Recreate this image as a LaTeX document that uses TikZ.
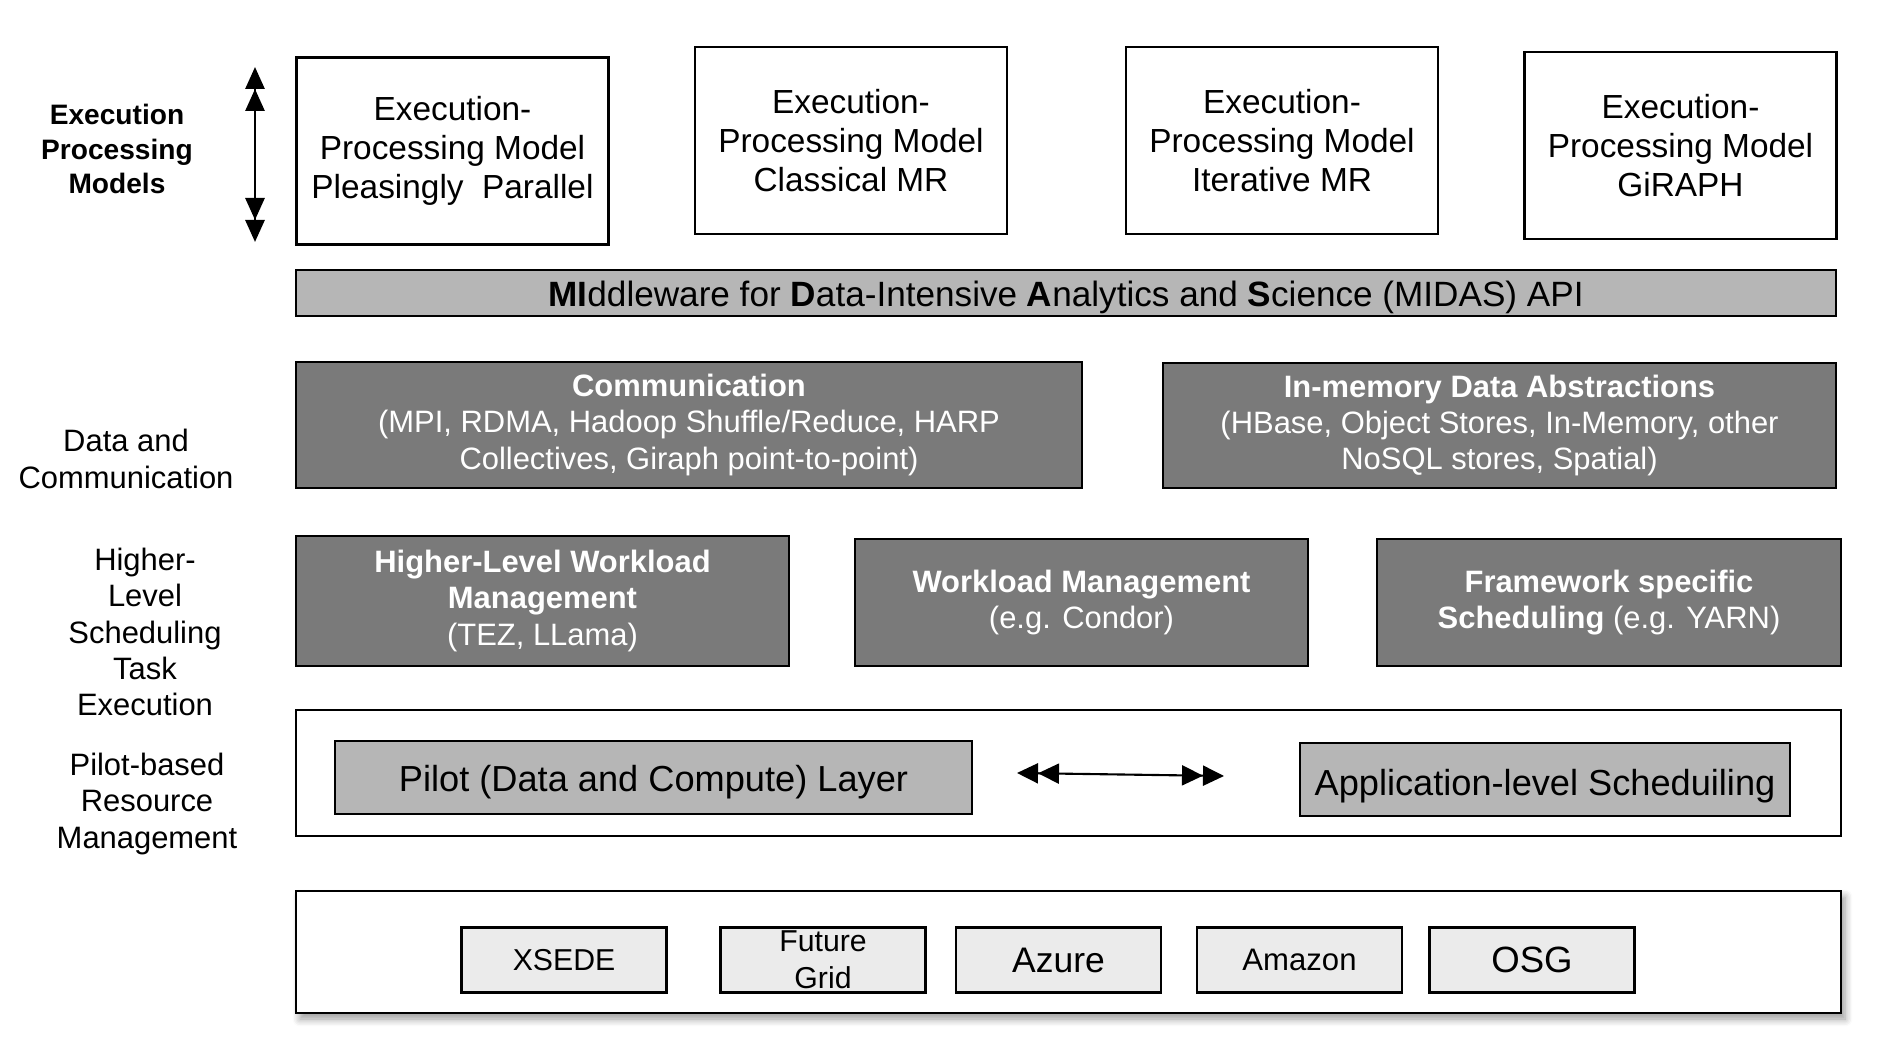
\documentclass[tikz,border=0pt]{standalone}
\usepackage{fontspec}
\setmainfont{Liberation Sans}
\usetikzlibrary{arrows.meta,shadows.blur}
\definecolor{darkfill}{RGB}{122,122,122}
\definecolor{midfill}{RGB}{182,182,182}
\definecolor{lightfill}{RGB}{235,235,235}

\begin{document}
\begin{tikzpicture}[x=1cm,y=-1cm,line width=0.8pt,
  box/.style={draw,inner sep=0pt,align=center},
  modelbox/.style={box,minimum width=3.12cm,minimum height=1.87cm,font=\fontsize{9.5}{11.1}\selectfont},
  darkbox/.style={box,fill=darkfill,text=white,font=\fontsize{8.8}{10.3}\selectfont},
  greybox/.style={box,fill=midfill,minimum height=0.73cm,font=\fontsize{10.3}{12}\selectfont},
  resbox/.style={box,fill=lightfill,minimum width=2.05cm,minimum height=0.65cm},
  layer/.style={box,fill=white,minimum width=15.45cm},
  sidelabel/.style={align=center,font=\fontsize{8.8}{10.3}\selectfont},
  twotri/.tip={Triangle[length=2.2mm,width=1.9mm]Triangle[length=2.2mm,width=1.9mm]}]
\useasboundingbox (0,0) rectangle (18.88,10.52);
% the labels on the left
\node[sidelabel,font=\bfseries\fontsize{8}{9.7}\selectfont] (epm) at (1.17,1.49) {Execution\\Processing\\Models};
\node[sidelabel] (dac) at (1.26,4.59) {Data and\\Communication};
\node[sidelabel] (hls) at (1.45,6.32) {Higher-\\Level\\Scheduling\\Task\\Execution};
\node[sidelabel] (prm) at (1.47,8.04) {Pilot-based\\Resource\\Management};
% the vertical arrow
\coordinate (eptop) at (2.55,0.67);
\coordinate (epbot) at (2.55,2.42);
\draw[twotri-twotri] (eptop) -- (epbot);
% the execution-processing models
\foreach \nm/\x/\y/\txt in {pp/4.525/1.51/{Pleasingly\ \ Parallel},cmr/8.51/1.405/Classical MR,imr/12.82/1.405/Iterative MR,grp/16.805/1.455/GiRAPH}
  \node[modelbox] (\nm) at (\x,\y) {Execution-\\Processing Model\\\txt};
% the api bar
\node[box,fill=midfill,minimum width=15.4cm,minimum height=0.46cm,font=\fontsize{10}{12}\selectfont] (midas) at (10.66,2.93)
  {\raisebox{-1.4pt}[\height][\depth]{\textbf{MI}ddleware for \textbf{D}ata-Intensive \textbf{A}nalytics and \textbf{S}cience (MIDAS) API}};
% data and communication
\node[darkbox,minimum width=7.86cm,minimum height=1.26cm] (comm) at (6.89,4.25)
  {\textbf{Communication}\\(MPI, RDMA, Hadoop Shuffle/Reduce, HARP\\Collectives, Giraph point-to-point)};
\node[darkbox,minimum width=6.73cm,minimum height=1.25cm] (inmem) at (14.995,4.255)
  {\textbf{In-memory Data Abstractions}\\(HBase, Object Stores, In-Memory, other\\NoSQL stores, Spatial)};
% scheduling
\node[darkbox,minimum width=4.93cm,minimum height=1.3cm] (hlwm) at (5.425,6.01)
  {\textbf{Higher-Level Workload}\\\textbf{Management}\\(TEZ, LLama)};
\node[darkbox,minimum width=4.53cm,minimum height=1.27cm] (wlm) at (10.815,6.025)
  {\textbf{Workload Management}\\(e.g. Condor)};
\node[darkbox,minimum width=4.64cm,minimum height=1.27cm] (fws) at (16.09,6.025)
  {\textbf{Framework specific}\\\textbf{Scheduling} (e.g. YARN)};
% the pilot layer
\node[layer,minimum height=1.26cm] (pilotlayer) at (10.685,7.73) {};
\node[greybox,minimum width=6.37cm] (pilot) at (6.535,7.775) {\raisebox{-1.4pt}[\height][\depth]{Pilot (Data and Compute) Layer}};
\node[greybox,minimum width=4.9cm] (appsched) at (15.45,7.795) {\raisebox{-2pt}[\height][\depth]{Application-level Scheduiling}};
\coordinate (pl) at (10.17,7.73);
\coordinate (pr) at (12.24,7.76);
\draw[line width=0.6pt,{twotri[length=2.1mm,width=2mm]}-{twotri[length=2.1mm,width=2mm]}] (pl) -- (pr);
% the resources
\node[layer,minimum height=1.22cm,blur shadow={shadow xshift=0.4mm,shadow yshift=-0.6mm,shadow blur steps=6,shadow opacity=40}] (infra) at (10.685,9.52) {};
\foreach \nm/\x/\fs/\txt in {xsede/5.64/8.6/XSEDE,fg/8.23/8.6/{Future\\Grid},azure/10.585/10.1/Azure,amazon/12.995/8.85/Amazon,osg/15.32/10.4/OSG}
  \node[resbox,font=\fontsize{\fs}{10.5}\selectfont] (\nm) at (\x,9.6) {\txt};
\end{tikzpicture}
\end{document}
